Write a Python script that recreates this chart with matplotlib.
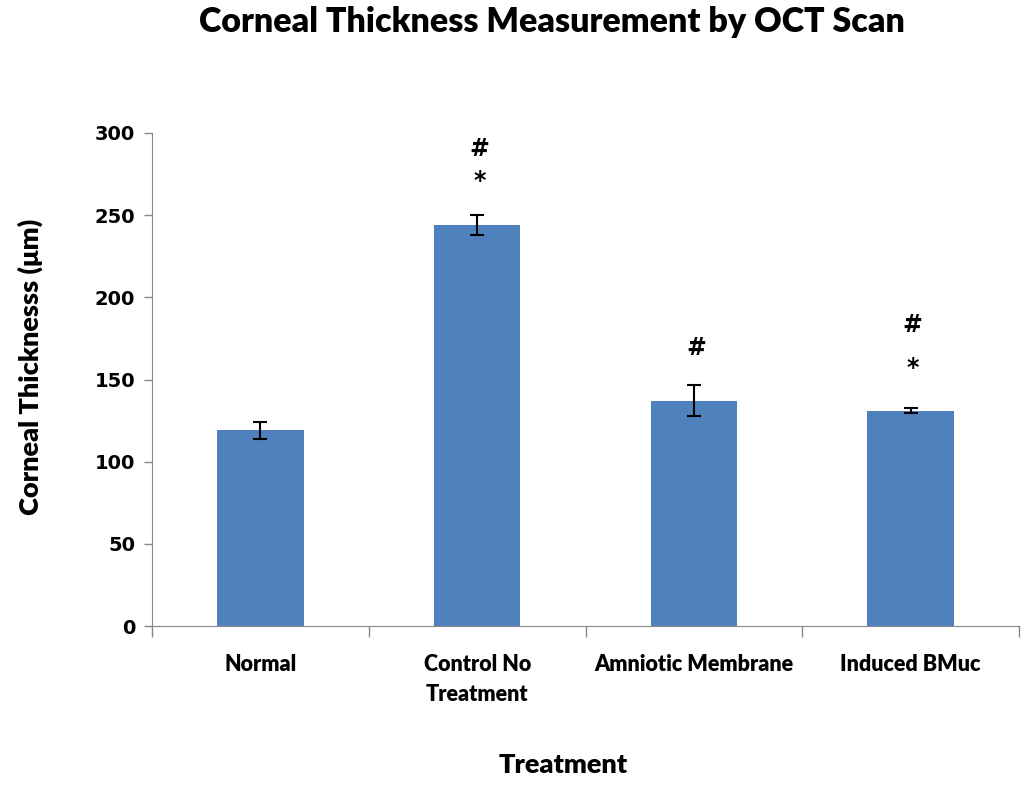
import matplotlib.pyplot as plt
import numpy as np

categories = ['Normal', 'Control No\nTreatment', 'Amniotic Membrane', 'Induced BMuc']
thickness = [119, 244, 137, 131]
errors = [5, 6, 9.5, 1.5]
# significance markers: (category index, symbol, y position in data units)
markers = [(1, '#', 290), (1, '*', 271), (2, '#', 169), (3, '#', 183), (3, '*', 157)]

fig = plt.figure(figsize=(10.26, 8), dpi=100)
ax = fig.add_axes([152 / 1026, 1 - 626 / 800, 867 / 1026, 493 / 800])

x = np.arange(len(categories))
ax.bar(x, thickness, width=0.4, color='#4F81BD', zorder=2)
ax.errorbar(x, thickness, yerr=errors, fmt='none', ecolor='black',
            elinewidth=1.5, capsize=5, capthick=1.5, zorder=3)

for i, sym, y in markers:
    ax.text(i + 0.01, y, sym, ha='center', va='center', fontsize=17,
            fontweight='bold', color='black')

ax.set_xlim(-0.5, len(categories) - 0.5)
ax.set_ylim(0, 300)
ax.set_yticks(range(0, 301, 50))
ax.set_yticklabels([str(v) for v in range(0, 301, 50)], fontsize=14,
                   fontweight='bold', family='DejaVu Sans')

# category labels between boundary ticks
ax.set_xticks(np.arange(-0.5, len(categories), 1.0))
ax.set_xticklabels([])
ax.tick_params(axis='x', length=8, color='#888888', width=1)
ax.tick_params(axis='y', length=6, color='#888888', width=1, pad=6)
for i, lab in enumerate(categories):
    ax.text(i, -17, lab, ha='center', va='top', fontsize=15.5, fontweight='heavy',
            family='Lato', linespacing=1.55, transform=ax.transData)

for s in ['top', 'right']:
    ax.spines[s].set_visible(False)
for s in ['left', 'bottom']:
    ax.spines[s].set_color('#888888')

fig.text(552 / 1026, 1 - 22 / 800, 'Corneal Thickness Measurement by OCT Scan',
         ha='center', va='center', fontsize=24.5, fontweight='heavy', family='Lato')
fig.text(563 / 1026, 1 - 765 / 800, 'Treatment', ha='center', va='center',
         fontsize=19.5, fontweight='heavy', family='Lato')
fig.text(30 / 1026, 1 - 367 / 800, 'Corneal Thicknesss (\u03bcm)', ha='center',
         va='center', rotation=90, fontsize=19.5, fontweight='heavy', family='Lato')

fig.savefig('out.png', dpi=100, facecolor='white')
